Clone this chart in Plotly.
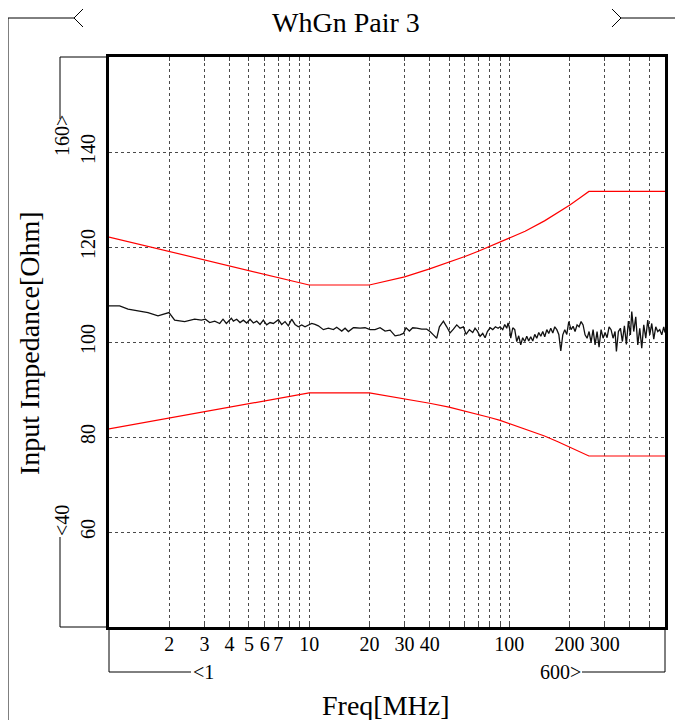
import math
import plotly.graph_objects as go

# ---------------- data ----------------
title_text = "WhGn Pair 3"
x_title = "Freq[MHz]"
y_title = "Input Impedance[Ohm]"

freq_mhz = [
    1.0, 1.13, 1.245, 1.396, 1.566, 1.757, 1.898, 1.994, 2.129, 2.389,
    2.680, 2.894, 3.030, 3.185, 3.375, 3.574, 3.713, 3.858, 4.087, 4.182,
    4.345, 4.515, 4.692, 4.876, 5.066, 5.265, 5.470, 5.684, 5.906, 6.137,
    6.377, 6.626, 7.018, 7.292, 7.577, 7.874, 8.182, 8.502, 8.834, 9.180,
    9.539, 9.912, 10.30, 10.70, 11.12, 11.78, 12.48, 13.22, 13.73, 14.55,
    15.12, 15.71, 16.64, 16.96, 17.97, 19.03, 20.16, 21.35, 22.62, 23.96,
    25.38, 26.88, 28.47, 29.58, 30.50, 31.69, 32.93, 34.48, 36.52, 38.68,
    40.19, 41.77, 43.41, 44.77, 46.88, 48.71, 50.61, 52.59, 54.65, 56.78,
    59.00, 60.84, 63.21, 65.69, 67.46, 69.29, 71.46, 73.70, 75.70, 77.76,
    80.20, 82.70, 85.26, 87.92, 89.95, 92.76, 94.91, 97.12, 98.63, 100.2,
    101.7, 104.1, 106.5, 109.0, 111.5, 114.1, 116.7, 119.5, 122.3, 125.1,
    128.0, 131.0, 134.1, 137.2, 140.4, 143.7, 147.0, 150.4, 154.0, 157.5,
    161.2, 165.0, 168.8, 172.8, 176.8, 180.9, 185.1, 189.4, 193.8, 198.3,
    201.4, 203.6, 208.4, 213.2, 218.2, 223.3, 228.5, 233.8, 239.2, 244.8,
    250.5, 256.3, 262.3, 268.4, 274.6, 281.0, 287.6, 294.3, 301.1, 308.1,
    315.3, 322.6, 330.1, 337.8, 343.0, 351.0, 359.2, 367.5, 376.1, 384.8,
    393.8, 402.9, 409.3, 418.8, 428.6, 438.6, 448.8, 459.2, 469.9, 480.9,
    492.0, 503.5, 515.2, 527.2, 539.5, 552.1, 564.9, 578.1, 591.5, 600.0,
]
impedance_ohm = [
    107.6, 107.6, 106.9, 106.6, 106.2, 105.5, 105.9, 106.2, 104.6, 104.3,
    104.8, 104.6, 104.8, 104.1, 104.4, 103.9, 104.8, 103.9, 105.0, 104.4,
    104.8, 104.1, 104.6, 104.0, 104.8, 104.0, 104.4, 103.7, 104.6, 103.6,
    104.1, 103.9, 104.7, 103.7, 104.3, 103.4, 104.8, 103.7, 103.2, 103.6,
    103.2, 103.6, 103.9, 103.7, 103.4, 102.6, 102.9, 102.6, 103.1, 102.3,
    102.9, 102.2, 103.0, 103.0, 102.9, 103.0, 102.6, 102.6, 103.0, 102.3,
    102.5, 101.3, 101.5, 101.8, 103.0, 102.3, 103.0, 102.9, 102.7, 102.7,
    102.2, 101.5, 100.8, 103.2, 104.4, 103.2, 101.9, 102.7, 103.6, 102.9,
    103.2, 101.6, 102.6, 102.0, 102.9, 102.3, 101.2, 101.8, 100.9, 102.2,
    103.0, 102.6, 103.2, 102.9, 103.2, 102.6, 103.7, 102.9, 104.0, 103.0,
    100.8, 103.0, 102.6, 100.1, 101.3, 99.4, 100.9, 100.1, 101.2, 100.2,
    101.1, 100.2, 101.6, 100.8, 102.0, 101.2, 102.2, 101.1, 102.6, 101.8,
    102.9, 101.9, 103.2, 102.6, 101.6, 98.1, 101.5, 102.6, 101.6, 104.3,
    103.0, 102.6, 103.3, 102.2, 103.6, 103.2, 104.3, 103.6, 101.5, 100.8,
    102.2, 99.9, 102.6, 99.4, 102.2, 98.9, 102.6, 100.8, 102.0, 100.9,
    103.2, 102.6, 100.8, 102.2, 98.0, 102.2, 102.9, 100.1, 103.4, 99.5,
    104.4, 101.5, 106.4, 102.2, 105.3, 99.4, 102.9, 98.7, 103.6, 100.8,
    104.6, 101.5, 103.9, 100.6, 103.2, 102.2, 102.6, 101.5, 103.2, 102.0,
]

upper_limit_freq = [1, 10, 20, 30, 40, 50, 60, 70, 80, 90, 100, 120, 150, 175, 200,
                    225, 250, 600]
upper_limit_ohm = [122.1, 112.0, 112.0, 113.7, 115.4, 116.8, 118.0, 119.1, 120.1, 121.0,
                   121.8, 123.3, 125.5, 127.2, 128.8, 130.3, 131.7, 131.7]
lower_limit_freq = [1, 10, 20, 30, 40, 50, 60, 70, 80, 90, 100, 120, 150, 175, 200,
                    225, 250, 600]
lower_limit_ohm = [81.7, 89.3, 89.3, 88.1, 87.1, 86.3, 85.5, 84.8, 84.1, 83.5,
                   82.8, 81.7, 80.2, 79.0, 77.9, 77.0, 76.0, 76.0]

x_range_mhz = [1, 600]
y_range_ohm = [40, 160]
x_tick_vals = [2, 3, 4, 5, 6, 7, 8, 9, 10, 20, 30, 40, 50, 60, 70, 80, 90,
               100, 200, 300, 400, 500]
x_tick_labels = ["2", "3", "4", "5", "6", "7", "", "", "10", "20", "30", "40",
                 "", "", "", "", "", "100", "200", "300", "", ""]
y_tick_vals = [60, 80, 100, 120, 140]
y_tick_labels = ["60", "80", "100", "120", "140"]

# ---------------- layout geometry ----------------
# page pixel positions (the page body adds an 8px offset to the figure)
W, H = 683, 720
OFF = 8
L, R, T, B = 109, 665, 57, 627
FONT = "Liberation Serif"


def px(x):
    return (x - L) / (R - L)


def py(y):
    return (B - y) / (B - T)


fig = go.Figure()
fig.add_trace(go.Scatter(x=upper_limit_freq, y=upper_limit_ohm, mode="lines",
                         line=dict(color="#ff0000", width=1.2), showlegend=False))
fig.add_trace(go.Scatter(x=lower_limit_freq, y=lower_limit_ohm, mode="lines",
                         line=dict(color="#ff0000", width=1.2), showlegend=False))
fig.add_trace(go.Scatter(x=freq_mhz, y=impedance_ohm, mode="lines",
                         line=dict(color="#111111", width=1.3), showlegend=False))

fig.update_xaxes(type="log", range=[math.log10(x_range_mhz[0]), math.log10(x_range_mhz[1])],
                 tickvals=x_tick_vals, ticktext=x_tick_labels,
                 showgrid=True, gridcolor="#4a4a4a", gridwidth=1, griddash="3px,3px",
                 showline=True, linecolor="black", linewidth=2.5, mirror="ticks",
                 ticks="inside", ticklen=4, tickcolor="#4a4a4a",
                 ticklabelstandoff=-3,
                 tickfont=dict(family=FONT, size=20, color="black"),
                 zeroline=False)
fig.update_yaxes(range=y_range_ohm, tickvals=y_tick_vals, ticktext=y_tick_labels,
                 tickangle=-90,
                 showgrid=True, gridcolor="#4a4a4a", gridwidth=1, griddash="3px,3px",
                 showline=True, linecolor="black", linewidth=3, mirror=True,
                 ticks="", ticklabelstandoff=3,
                 tickfont=dict(family=FONT, size=20, color="black"),
                 zeroline=False)

lc = dict(color="black", width=1)


def path(points):
    return "M " + " L ".join(f"{px(x)},{py(y)}" for x, y in points)


shapes = []
# outer frame bracket with chevrons at top
shapes.append(dict(type="path", xref="paper", yref="paper",
                   path=path([(8, 730), (8, 18), (74, 18)]), line=lc))
shapes.append(dict(type="path", xref="paper", yref="paper",
                   path=path([(83, 9), (74, 18), (83, 27)]), line=lc))
shapes.append(dict(type="path", xref="paper", yref="paper",
                   path=path([(612, 9), (621, 18), (612, 27)]), line=lc))
shapes.append(dict(type="path", xref="paper", yref="paper",
                   path=path([(621, 18), (700, 18)]), line=lc))
# y-range bracket
shapes.append(dict(type="path", xref="paper", yref="paper",
                   path=path([(109, 57), (60, 57), (60, 119)]), line=lc))
shapes.append(dict(type="path", xref="paper", yref="paper",
                   path=path([(60, 537), (60, 627), (109, 627)]), line=lc))
# x-range bracket
shapes.append(dict(type="path", xref="paper", yref="paper",
                   path=path([(109, 627), (109, 672), (191, 672)]), line=lc))
shapes.append(dict(type="path", xref="paper", yref="paper",
                   path=path([(582, 672), (665, 672), (665, 627)]), line=lc))

tf = dict(family=FONT, size=20, color="black")
big = dict(family=FONT, size=28, color="black")


def ann(text, x, y, font, angle=0):
    return dict(text=text, x=px(x), y=py(y), xref="paper", yref="paper",
                xanchor="center", yanchor="middle", textangle=angle,
                showarrow=False, font=font)


annotations = [
    ann(title_text, 346, 22, big),
    ann(x_title, 386, 705, big),
    ann(y_title, 29, 343, big, -90),
    ann("&lt;" + str(x_range_mhz[0]), 203, 672, tf),
    ann(str(x_range_mhz[1]) + "&gt;", 560, 672, tf),
    ann(str(y_range_ohm[1]) + "&gt;", 62, 136, tf, -90),
    ann("&lt;" + str(y_range_ohm[0]), 62, 521, tf, -90),
]

fig.update_layout(width=W, height=H,
                  margin=dict(l=L - OFF, r=W - (R - OFF), t=T - OFF, b=H - (B - OFF)),
                  paper_bgcolor="white", plot_bgcolor="white",
                  shapes=shapes, annotations=annotations, showlegend=False)

fig.write_html("out.html")
